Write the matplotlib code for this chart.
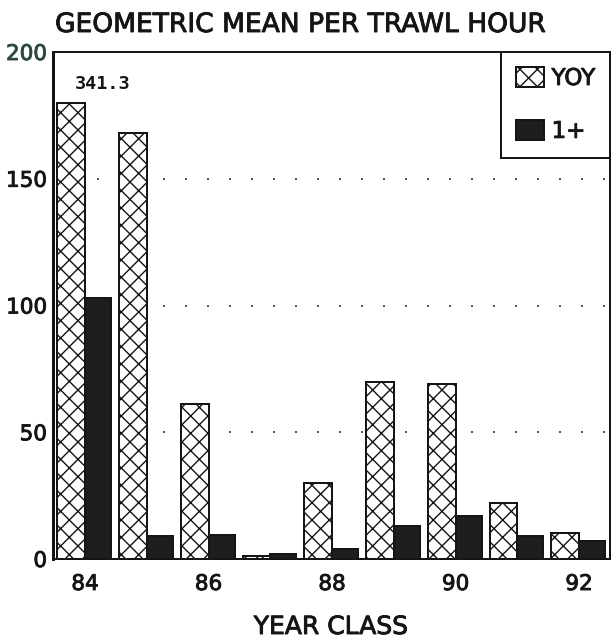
import numpy as np
import matplotlib
matplotlib.use('Agg')
import matplotlib.pyplot as plt
import matplotlib.patheffects as pe

# data
years = [84, 85, 86, 87, 88, 89, 90, 91, 92]
yoy = [341.3, 168, 61, 1.3, 30, 70, 69, 22, 10.4]      # young-of-year
plus1 = [103, 9.2, 9.5, 2, 3.9, 13, 17, 9, 7.2]        # age 1+
xtick_years = [84, 86, 88, 90, 92]
yticks = [0, 50, 100, 150, 200]
YOY_CAP = 180   # the 1984 YOY bar is drawn broken at this height

DPI = 104  # hatch tile follows dpi, this gives ~13px diamonds like the scan


def pt(px):
    # pixels -> points at this dpi
    return px * 72 / DPI


plt.rcParams['font.family'] = 'DejaVu Sans'
plt.rcParams['hatch.linewidth'] = pt(1.4)
ink = '#151515'
heavy = [pe.withStroke(linewidth=pt(0.9), foreground=ink)]  # scanned type looks heavier

fig = plt.figure(figsize=(614 / DPI, 638 / DPI), dpi=DPI)
ax = fig.add_axes([53 / 614, 1 - 559 / 638, 557 / 614, 507 / 638])

yoy_drawn = np.minimum(yoy, YOY_CAP)
ax.bar(years, yoy_drawn, width=-0.45, align='edge', facecolor='white',
       edgecolor=ink, hatch='xx', linewidth=pt(2), label='YOY', zorder=3)
ax.bar(years, plus1, width=0.42, align='edge', facecolor='#1e1e1e',
       edgecolor=ink, linewidth=pt(2), label='1+', zorder=3)

ax.text(years[0] + 0.28, YOY_CAP + 7.5, f"{yoy[0]:.1f}", ha='center', va='center',
        family='DejaVu Sans Mono', fontweight='bold', fontsize=pt(18.5), color=ink)

ax.set_xlim(83.48, 92.5)
ax.set_ylim(0, 200)
ax.set_xticks(xtick_years)
ax.set_yticks(yticks)
ax.tick_params(length=0, labelsize=pt(21.5), colors=ink)
ax.tick_params(axis='x', pad=pt(15))
ax.tick_params(axis='y', pad=pt(6))
for lab in ax.get_xticklabels() + ax.get_yticklabels():
    lab.set_path_effects(heavy)
ax.get_yticklabels()[-1].set_color('#2c4a3c')
ax.get_yticklabels()[-1].set_path_effects([pe.withStroke(linewidth=pt(0.9), foreground='#2c4a3c')])

ax.yaxis.grid(True, color='#555555', linestyle=(0, (1, 10)), linewidth=pt(2))
ax.set_axisbelow(True)

for side in ['top', 'right', 'bottom']:
    ax.spines[side].set_linewidth(pt(2))
    ax.spines[side].set_color(ink)
ax.spines['left'].set_linewidth(pt(3))
ax.spines['left'].set_color(ink)

leg = ax.legend(loc='upper right', bbox_to_anchor=(1, 1), borderaxespad=0,
                fancybox=False, framealpha=1, edgecolor=ink, fontsize=pt(23),
                handlelength=1.2, handleheight=0.95, handletextpad=0.35,
                labelspacing=1.3, borderpad=0.65)
leg.get_frame().set_linewidth(pt(2))
for t in leg.get_texts():
    t.set_color(ink)
    t.set_path_effects(heavy)

fig.text(55 / 614, 1 - 32 / 638, 'GEOMETRIC MEAN PER TRAWL HOUR', ha='left',
         va='baseline', fontsize=pt(26.5), color=ink, path_effects=heavy)
fig.text(331 / 614, 1 - 634 / 638, 'YEAR CLASS', ha='center', va='baseline',
         fontsize=pt(25), color=ink, path_effects=heavy)

fig.savefig('out.png', dpi=DPI)
